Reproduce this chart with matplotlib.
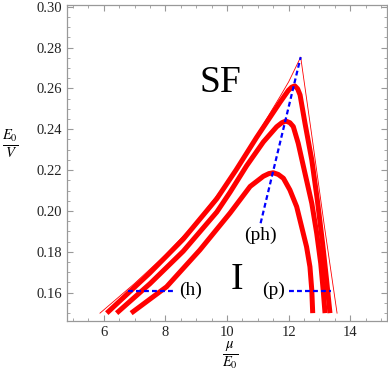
import numpy as np
import matplotlib
matplotlib.use('Agg')
import matplotlib.pyplot as plt
from matplotlib.ticker import MultipleLocator, FormatStrFormatter

plt.rcParams['font.family'] = ['Liberation Serif', 'DejaVu Serif']
plt.rcParams['mathtext.fontset'] = 'stix'

# borda externa (linha fina)
thinX = [5.88, 7.0, 8.0, 9.0, 10.0, 11.0, 11.72, 12.0, 12.39, 12.75, 13.15, 13.57]
thinY = [0.150, 0.1645, 0.1785, 0.1945, 0.2140, 0.2380, 0.2560, 0.2632, 0.2753, 0.2370, 0.1935, 0.150]

# lobulos (linhas grossas)
lobe1X = [6.10, 7.50, 8.58, 9.67, 10.30, 10.96, 11.72, 11.99, 12.10, 12.20, 12.29, 12.37, 12.53, 12.75, 12.93, 13.10, 13.23, 13.34]
lobe1Y = [0.150, 0.1697, 0.1862, 0.2060, 0.2202, 0.2360, 0.2532, 0.2590, 0.2606, 0.2612, 0.2598, 0.2568, 0.2429, 0.2250, 0.2054, 0.1842, 0.1662, 0.150]

lobe2X = [6.42, 7.50, 8.58, 9.67, 10.10, 10.64, 11.18, 11.61, 11.78, 11.91, 12.04, 12.15, 12.31, 12.53, 12.75, 12.91, 13.04, 13.12, 13.18]
lobe2Y = [0.150, 0.1644, 0.1803, 0.1995, 0.2092, 0.2222, 0.2338, 0.2412, 0.2432, 0.2440, 0.2432, 0.2413, 0.2331, 0.2184, 0.2038, 0.1891, 0.1744, 0.1613, 0.150]

lobe3X = [6.89, 8.04, 9.12, 10.10, 10.75, 11.18, 11.36, 11.50, 11.66, 11.83, 12.04, 12.26, 12.42, 12.58, 12.69, 12.75, 12.78]
lobe3Y = [0.150, 0.1629, 0.1809, 0.1990, 0.2120, 0.2170, 0.2183, 0.2187, 0.2179, 0.2160, 0.2103, 0.2021, 0.1923, 0.1825, 0.1727, 0.1613, 0.150]

# linhas tracejadas azuis
phX = [11.09, 12.39]
phY = [0.1940, 0.2753]
hX = [6.80, 8.32]
hY = [0.161, 0.161]
pX = [12.01, 13.37]
pY = [0.161, 0.161]

xTicks = [6, 8, 10, 12, 14]
yTicks = [0.16, 0.18, 0.20, 0.22, 0.24, 0.26, 0.28, 0.30]

fig = plt.figure(figsize=(3.88, 3.76), dpi=100)
ax = fig.add_axes([67.3/388, 1-320.7/376, 319.4/388, 315.7/376])

ax.plot(thinX, thinY, color='red', lw=0.6)
for lx, ly in [(lobe1X, lobe1Y), (lobe2X, lobe2Y), (lobe3X, lobe3Y)]:
	ax.plot(lx, ly, color='red', lw=3.6, solid_capstyle='butt', solid_joinstyle='round')

for bx, by in [(phX, phY), (hX, hY), (pX, pY)]:
	ax.plot(bx, by, color='blue', lw=1.6, dashes=(2.2, 1.4))

ax.text(9.79, 0.2627, 'SF', fontsize=27, ha='center', va='center')
ax.text(10.33, 0.1665, 'I', fontsize=27, ha='center', va='center')
ax.text(8.81, 0.1612, '(h)', fontsize=14, ha='center', va='center')
ax.text(11.52, 0.1612, '(p)', fontsize=14, ha='center', va='center')
ax.text(11.07, 0.1880, '(ph)', fontsize=14, ha='center', va='center')

ax.set_xlim(4.82, 15.18)
ax.set_ylim(0.1463, 0.3008)
ax.set_xticks(xTicks)
ax.set_yticks(yTicks)
ax.yaxis.set_major_formatter(FormatStrFormatter('%.2f'))
ax.xaxis.set_minor_locator(MultipleLocator(0.5))
ax.yaxis.set_minor_locator(MultipleLocator(0.005))
ax.tick_params(which='both', direction='in', top=True, right=True, color='#999999', labelsize=10.5, labelcolor='#222222')
ax.tick_params(which='major', length=4, width=0.8)
ax.tick_params(which='minor', length=2, width=0.6)
for s in ax.spines.values():
	s.set_color('#999999')
	s.set_linewidth(0.9)

fig.text(10.5/388, 1-145/376, r'$\frac{E_0}{V}$', fontsize=15, ha='center', va='center')
fig.text(230/388, 1-356/376, r'$\frac{\mu}{E_0}$', fontsize=15, ha='center', va='center')

fig.savefig('out.png', dpi=100)
